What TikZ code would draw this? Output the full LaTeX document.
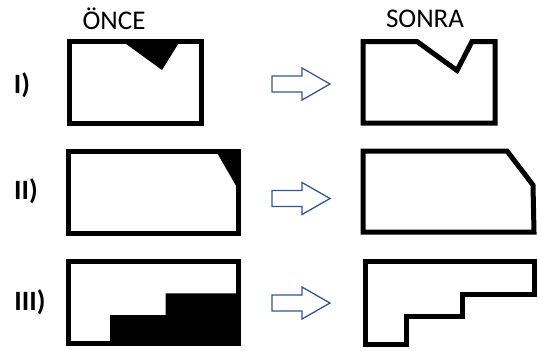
\documentclass[tikz,border=0pt]{standalone}
\usepackage{fontspec}
\setmainfont{Carlito}
\usepackage{xcolor}
\definecolor{arrowblue}{RGB}{47,85,151}

\begin{document}
\begin{tikzpicture}[x=1pt,y=-1pt,
  frame/.style={line width=5pt, miter limit=10},
  title/.style={font=\fontsize{27}{30}\selectfont},
  rowlabel/.style={font=\fontsize{28}{30}\selectfont\bfseries},
  blockarrow/.style={draw=arrowblue, line width=1.3pt}]
\useasboundingbox (0,0) rectangle (539,351);

\node[title] (once) at (114,19) {ÖNCE};
\node[title] (sonra) at (425,18.5) {SONRA};

\node[rowlabel] (rowI) at (22,85) {I)};
\node[rowlabel] (rowII) at (26,191) {II)};
\node[rowlabel] (rowIII) at (30,302) {III)};

\foreach \y in {84, 198.5, 303}
	\draw[blockarrow] (272,\y-8) -- (302,\y-8) -- (302,\y-16) -- (330,\y) -- (302,\y+16) -- (302,\y+8) -- (272,\y+8) -- cycle;

\fill (122,41) -- (180,41) -- (162,70) -- cycle;
\draw[frame] (69,41) rectangle (201,123);
\draw[frame] (363,41.5) -- (417,41.5) -- (457,70.5) -- (472,41.5) -- (495,41.5) -- (495,123) -- (363,123) -- cycle;

\fill (216,151) -- (238.5,151) -- (238.5,190) -- cycle;
\draw[frame] (68.5,151) rectangle (238.5,233);
\draw[frame] (363,151) -- (507,151) -- (533,185) -- (534,232) -- (363,232) -- cycle;

\fill (110,343.5) -- (110,315) -- (165.7,315) -- (165.7,293.3) -- (238.5,293.3) -- (238.5,343.5) -- cycle;
\draw[frame] (68.5,261) rectangle (238.5,343.5);
\draw[frame] (365.5,261) -- (534,261) -- (534,294.3) -- (462.5,294.3) -- (462.5,316.5) -- (406.5,316.5) -- (406.5,344.8) -- (365.5,344.8) -- cycle;
\end{tikzpicture}
\end{document}
